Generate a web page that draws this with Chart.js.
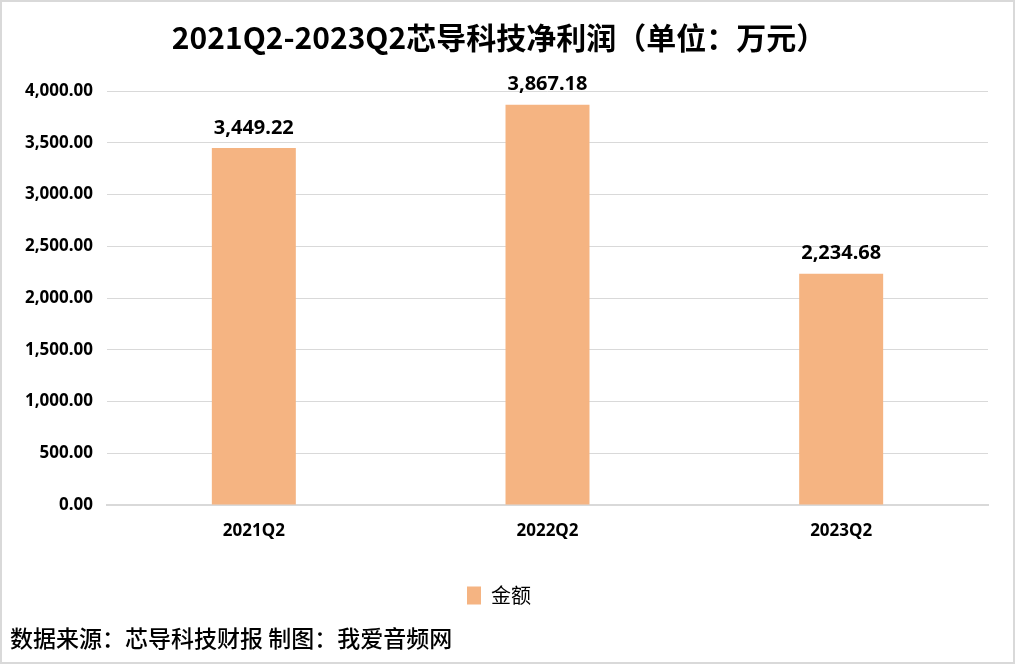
<!DOCTYPE html>
<html>
<head>
<meta charset="utf-8">
<script src="https://cdn.jsdelivr.net/npm/chart.js@4/dist/chart.umd.min.js"></script>
<style>
  html, body { margin: 0; padding: 0; background: #fff; }
  #wrap { width: 1011px; height: 660px; border: 2px solid #d9d9d9; position: relative; }
  canvas { display: block; }
</style>
</head>
<body>
<div id="wrap"><canvas id="grafico" width="1011" height="660"></canvas></div>
<script>
const quarters = ['2021Q2', '2022Q2', '2023Q2'];
const netProfit = [3449.22, 3867.18, 2234.68];
const seriesName = '金额';
const chartTitle = '2021Q2-2023Q2芯导科技净利润（单位：万元）';
const sourceNote = '数据来源：芯导科技财报 制图：我爱音频网';

const numFont = "'Noto Sans', 'Noto Sans CJK SC', sans-serif";
const cjkFont = "'Noto Sans CJK SC', sans-serif";
const fmt = v => v.toLocaleString('en-US', {minimumFractionDigits: 2, maximumFractionDigits: 2});

// valores encima de cada barra
const etiquetas = {
  id: 'etiquetas',
  afterDatasetsDraw(chart) {
    const ctx = chart.ctx;
    ctx.save();
    ctx.font = 'bold 20px ' + numFont;
    ctx.fillStyle = '#000';
    ctx.textAlign = 'center';
    ctx.textBaseline = 'bottom';
    chart.getDatasetMeta(0).data.forEach((bar, i) => {
      ctx.fillText(fmt(netProfit[i]), bar.x, bar.y - 10);
    });
    ctx.restore();
  }
};

new Chart(document.getElementById('grafico'), {
  type: 'bar',
  data: {
    labels: quarters,
    datasets: [{
      label: seriesName,
      data: netProfit,
      backgroundColor: '#f5b482',
      borderWidth: 0,
      categoryPercentage: 1,
      barPercentage: 0.286
    }]
  },
  options: {
    responsive: false,
    animation: false,
    layout: { padding: { left: 8, right: 25, top: 5, bottom: 4 } },
    scales: {
      x: {
        grid: { display: false, drawTicks: false },
        border: { display: true, color: '#d9d9d9', width: 2 },
        ticks: { color: '#000', font: { size: 17, weight: 'bold', family: numFont }, padding: 16 }
      },
      y: {
        min: 0,
        max: 4000,
        grid: { color: '#d9d9d9', lineWidth: 1, drawTicks: false },
        border: { display: false },
        ticks: {
          stepSize: 500,
          color: '#000',
          padding: 14,
          font: { size: 17, weight: 'bold', family: numFont },
          callback: v => fmt(v)
        },
        afterFit(scale) { scale.width = 97; }
      }
    },
    plugins: {
      title: {
        display: true,
        text: chartTitle,
        color: '#000',
        font: { size: 30, weight: 'bold', family: cjkFont },
        padding: { top: 13, bottom: 35 }
      },
      subtitle: {
        display: true,
        position: 'bottom',
        align: 'start',
        text: sourceNote,
        color: '#000',
        font: { size: 23, weight: '500', family: cjkFont },
        padding: { top: 9, bottom: 6 }
      },
      legend: {
        position: 'bottom',
        labels: {
          color: '#000',
          boxWidth: 14,
          boxHeight: 18,
          font: { size: 20, family: cjkFont },
          padding: 28
        }
      },
      tooltip: { enabled: false }
    }
  },
  plugins: [etiquetas]
});
</script>
</body>
</html>
